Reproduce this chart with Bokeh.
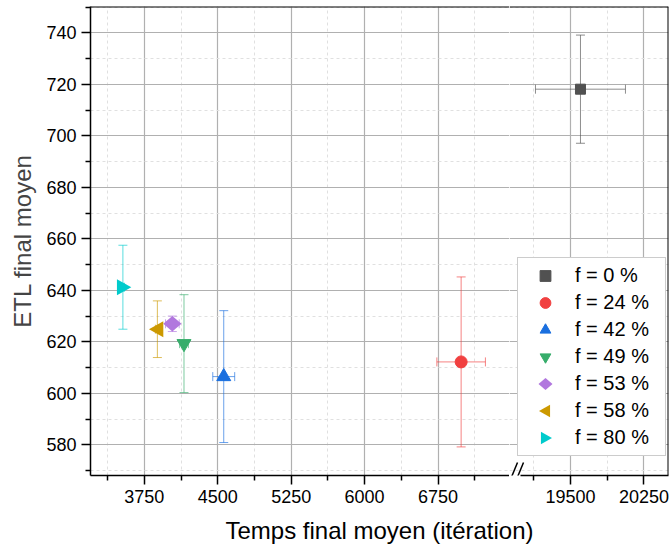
from bokeh.plotting import figure
from bokeh.models import (Range1d, FixedTicker, Whisker, TeeHead, ColumnDataSource,
                          Legend, LegendItem, Span, Arrow, Title, CustomJS)
from bokeh.layouts import row, column
from bokeh.embed import file_html
from bokeh.resources import INLINE

# ---- data ----
series_labels = ["f = 0 %", "f = 24 %", "f = 42 %", "f = 49 %", "f = 53 %", "f = 58 %", "f = 80 %"]
time_mean = [19602, 6986, 4561, 4155, 4036, 3883, 3531]
time_err = [459, 248, 112, 45, 70, 20, 15]
etl_mean = [718.1, 612.2, 606.5, 619.3, 627.0, 624.9, 641.2]
etl_err = [21.0, 33.0, 25.6, 19.0, 3.0, 11.0, 16.3]

colors = ["#515151", "#F14040", "#1A6FDF", "#37AD6B", "#B177DE", "#CC9900", "#00CBCC"]
markers = ["square", "circle", "triangle", "inverted_triangle", "@diamond", "@left_tri", "@right_tri"]
sizes = [10, 12, 14, 14, 14, 14, 14]

y_major = [580, 600, 620, 640, 660, 680, 700, 720, 740]
y_minor = [570, 590, 610, 630, 650, 670, 690, 710, 730, 750]
x_left_major = [3750, 4500, 5250, 6000, 6750]
x_left_minor = [3375, 4125, 4875, 5625, 6375, 7125]
x_right_major = [19500, 20250]
x_right_minor = [19125, 19875]

x_left_lim = (3200, 7480)
x_right_lim = (18878, 20500)
x_right_axis_start = 18990
y_lim = (568.1, 750.2)

FONT = "Liberation Sans"
FRAME_H = 469
LEFT_W = 419
RIGHT_W = 159
BORDER_L = 90

TRI_CODE = """
export default (args, obj, data, context) => {
  const ctx = data.ctx
  const r = data.r
  const s = args.dir
  ctx.moveTo(s * r * 1.2, 0)
  ctx.lineTo(-s * r * 0.85, -r * 1.15)
  ctx.lineTo(-s * r * 0.85, r * 1.15)
  ctx.closePath()
  ctx.fillStyle = args.color
  ctx.fill()
}
"""
DIAMOND_CODE = """
export default (args, obj, data, context) => {
  const ctx = data.ctx
  const r = data.r
  ctx.moveTo(0, -r * 1.1)
  ctx.lineTo(r * 1.3, 0)
  ctx.lineTo(0, r * 1.1)
  ctx.lineTo(-r * 1.3, 0)
  ctx.closePath()
  ctx.fillStyle = args.color
  ctx.fill()
}
"""
defs = {
    "@diamond": CustomJS(args=dict(color=colors[4]), code=DIAMOND_CODE),
    "@left_tri": CustomJS(args=dict(dir=-1, color=colors[5]), code=TRI_CODE),
    "@right_tri": CustomJS(args=dict(dir=1, color=colors[6]), code=TRI_CODE),
}

y_range = Range1d(*y_lim)
p1 = figure(x_range=Range1d(*x_left_lim), y_range=y_range, frame_width=LEFT_W, frame_height=FRAME_H,
            min_border_left=BORDER_L, min_border_right=0, min_border_top=6, min_border_bottom=36,
            output_backend="svg", toolbar_location=None)
p2 = figure(x_range=Range1d(*x_right_lim), y_range=y_range, frame_width=RIGHT_W, frame_height=FRAME_H,
            min_border_left=0, min_border_right=3, min_border_top=6, min_border_bottom=36,
            y_axis_location=None, output_backend="svg", toolbar_location=None)

y_ticker = FixedTicker(ticks=y_major, minor_ticks=y_minor)
tick_left = FixedTicker(ticks=x_left_major, minor_ticks=x_left_minor)
tick_right = FixedTicker(ticks=x_right_major, minor_ticks=x_right_minor)

for p, xt in ((p1, tick_left), (p2, tick_right)):
    p.outline_line_color = None
    p.background_fill_color = "white"
    p.xaxis.ticker = xt
    p.xgrid.ticker = xt
    p.ygrid.ticker = y_ticker
    for g in (p.xgrid, p.ygrid):
        g.grid_line_color = "#b0b0b0"
        g.grid_line_width = 1.2
        g.minor_grid_line_color = "#e0e0e0"
        g.minor_grid_line_dash = "3 3"
        g.minor_grid_line_width = 1
    axes = list(p.xaxis) + (list(p.yaxis) if p is p1 else [])
    for ax in axes:
        ax.axis_line_color = "black"
        ax.axis_line_width = 1.5
        ax.major_tick_line_color = "black"
        ax.major_tick_line_width = 1.5
        ax.minor_tick_line_color = "black"
        ax.minor_tick_line_width = 1.5
        ax.major_tick_in = 0
        ax.major_tick_out = 9
        ax.minor_tick_in = 0
        ax.minor_tick_out = 5
        ax.major_label_text_font = FONT
        ax.major_label_text_font_size = "18px"
        ax.major_label_text_color = "black"
        ax.major_label_standoff = 5
    p.add_layout(Span(location=y_lim[1], dimension="width", line_color="black", line_width=2))

p1.yaxis.ticker = y_ticker
p1.yaxis.axis_label = "ETL final moyen"
p1.yaxis.axis_label_text_font = FONT
p1.yaxis.axis_label_text_font_size = "24px"
p1.yaxis.axis_label_text_font_style = "normal"
p1.yaxis.axis_label_standoff = 7
p2.xaxis.bounds = (x_right_axis_start, x_right_lim[1])
p2.add_layout(Span(location=x_right_lim[1], dimension="height", line_color="black", line_width=2))

# break marks on the x axis
px_per_unit_x = RIGHT_W / (x_right_lim[1] - x_right_lim[0])
px_per_unit_y = FRAME_H / (y_lim[1] - y_lim[0])
for off in (0, 6):
    xs = x_right_lim[0] + (1 + off) / px_per_unit_x
    xe = x_right_lim[0] + (8 + off) / px_per_unit_x
    p2.add_layout(Arrow(x_start=xs, y_start=y_lim[0] - 4 / px_per_unit_y,
                        x_end=xe, y_end=y_lim[0] + 13 / px_per_unit_y,
                        start=None, end=None, line_color="black", line_width=1.5))

legend_items = []
for i in range(len(series_labels)):
    src = ColumnDataSource(dict(
        x=[time_mean[i]], y=[etl_mean[i]],
        xl=[time_mean[i] - time_err[i]], xu=[time_mean[i] + time_err[i]],
        yl=[etl_mean[i] - etl_err[i]], yu=[etl_mean[i] + etl_err[i]]))
    target = p2 if time_mean[i] >= x_right_lim[0] else p1
    for dim, base, lo, up in (("height", "x", "yl", "yu"), ("width", "y", "xl", "xu")):
        w = Whisker(source=src, base=base, lower=lo, upper=up, dimension=dim,
                    line_color=colors[i], line_alpha=0.65, line_width=1, level="underlay",
                    lower_head=TeeHead(size=9, line_color=colors[i], line_alpha=0.65, line_width=1),
                    upper_head=TeeHead(size=9, line_color=colors[i], line_alpha=0.65, line_width=1))
        target.add_layout(w)
    for p in (p1, p2):
        kw = dict(defs=defs) if markers[i].startswith("@") else {}
        r = p.scatter("x", "y", source=src, marker=markers[i], size=sizes[i],
                      fill_color=colors[i], line_color=colors[i], line_width=1, **kw)
        if p is p2:
            legend_items.append(LegendItem(label=series_labels[i], renderers=[r]))

legend = Legend(items=legend_items, location=(8, 19), border_line_color="#999999",
                border_line_width=1.5, background_fill_color="white", background_fill_alpha=1,
                label_text_font=FONT, label_text_font_size="20px", label_text_color="black",
                glyph_width=46, glyph_height=27, label_height=27, spacing=0, padding=4,
                margin=0, label_standoff=7, label_width=86)
p2.add_layout(legend)

p3 = figure(width=BORDER_L + LEFT_W + RIGHT_W + 3, height=37, min_border=0, min_border_left=BORDER_L,
            min_border_right=3, x_axis_location=None, y_axis_location=None,
            output_backend="svg", toolbar_location=None)
p3.outline_line_color = None
p3.xgrid.visible = False
p3.ygrid.visible = False
p3.title = Title(text="Temps final moyen (itération)", align="center", text_font=FONT,
                 text_font_size="24px", text_font_style="normal", text_color="black")

layout = column(row(p1, p2), p3)
open("out.html", "w").write(file_html(layout, INLINE))
